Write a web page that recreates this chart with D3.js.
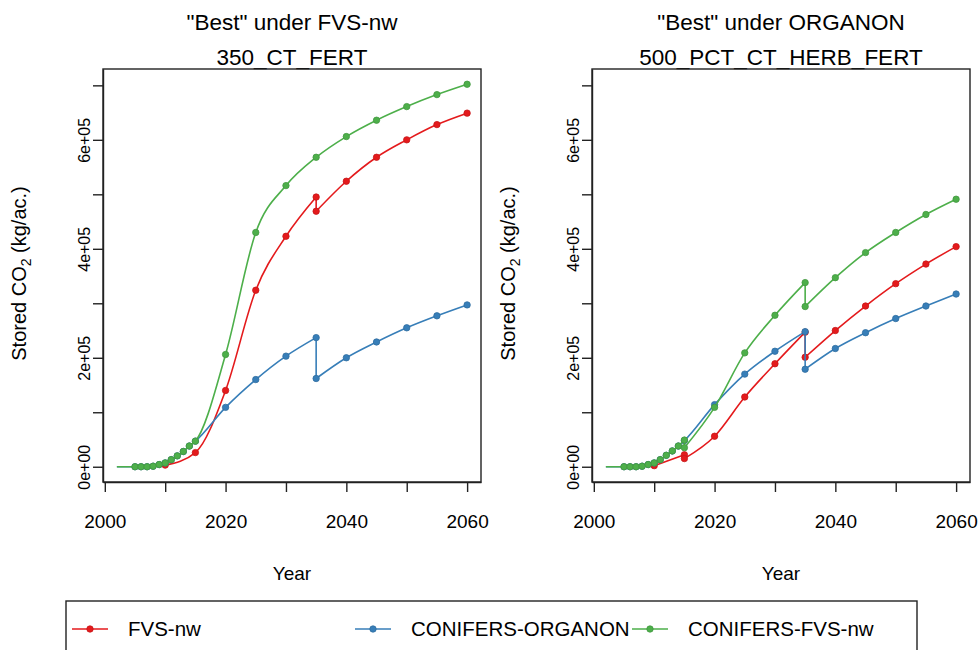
<!DOCTYPE html>
<html>
<head>
<meta charset="utf-8">
<script src="https://cdn.jsdelivr.net/npm/d3@7"></script>
<style>
  body { margin: 0; background: #fff; }
  text { font-family: "Liberation Sans", Arial, Helvetica, sans-serif; fill: #000; }
</style>
</head>
<body>
<svg id="chart" width="979" height="650"></svg>
<script>
// ---- data -------------------------------------------------------------
const seriesNames  = ["FVS-nw", "CONIFERS-ORGANON", "CONIFERS-FVS-nw"];
const seriesColors = ["#E41A1C", "#377EB8", "#4DAF4A"];

const panelTitles = [
  ['"Best" under FVS-nw', "350_CT_FERT"],
  ['"Best" under ORGANON', "500_PCT_CT_HERB_FERT"]
];

const xTickValues = [2000, 2010, 2020, 2030, 2040, 2050, 2060];
const xTickLabels = ["2000", "", "2020", "", "2040", "", "2060"];
const yTickValues = [0, 100000, 200000, 300000, 400000, 500000, 600000, 700000];
const yTickLabels = ["0e+00", "", "2e+05", "", "4e+05", "", "6e+05", ""];

// curves start before the first plotted symbol
const firstMarkedYear = 2005;

// "Best" under FVS-nw : 350_CT_FERT
const fvsBestFvsYears   = [2010, 2015, 2020, 2025, 2030, 2035, 2035, 2040, 2045, 2050, 2055, 2060];
const fvsBestFvsValues  = [3000, 26000, 140000, 324000, 423000, 495000, 469000, 524000, 568000, 600000, 628000, 649000];

const fvsBestOrgYears   = [2002, 2005, 2006, 2007, 2008, 2009, 2010, 2011, 2012, 2013, 2014, 2015,
                           2020, 2025, 2030, 2035, 2035, 2040, 2045, 2050, 2055, 2060];
const fvsBestOrgValues  = [0, 0, 0, 0, 1000, 4000, 7000, 13000, 20000, 28000, 38000, 47000,
                           109000, 160000, 203000, 237000, 162000, 200000, 229000, 255000, 277000, 297000];

const fvsBestCfvsYears  = [2002, 2005, 2006, 2007, 2008, 2009, 2010, 2011, 2012, 2013, 2014, 2015,
                           2020, 2025, 2030, 2035, 2040, 2045, 2050, 2055, 2060];
const fvsBestCfvsValues = [0, 0, 0, 0, 1000, 4000, 7000, 13000, 20000, 28000, 38000, 47000,
                           206000, 430000, 516000, 568000, 606000, 636000, 661000, 683000, 702000];

// "Best" under ORGANON : 500_PCT_CT_HERB_FERT
const orgBestFvsYears   = [2010, 2015, 2015, 2020, 2025, 2030, 2035, 2035, 2040, 2045, 2050, 2055, 2060];
const orgBestFvsValues  = [2000, 22000, 15000, 56000, 128000, 189000, 247000, 201000, 250000, 295000, 336000, 372000, 404000];

const orgBestOrgYears   = [2002, 2005, 2006, 2007, 2008, 2009, 2010, 2011, 2012, 2013, 2014, 2015,
                           2020, 2025, 2030, 2035, 2035, 2040, 2045, 2050, 2055, 2060];
const orgBestOrgValues  = [0, 0, 0, 0, 1000, 4000, 7000, 13000, 21000, 29000, 38000, 48000,
                           114000, 170000, 212000, 248000, 179000, 217000, 246000, 272000, 295000, 317000];

const orgBestCfvsYears  = [2002, 2005, 2006, 2007, 2008, 2009, 2010, 2011, 2012, 2013, 2014, 2015, 2015,
                           2020, 2025, 2030, 2035, 2035, 2040, 2045, 2050, 2055, 2060];
const orgBestCfvsValues = [0, 0, 0, 0, 1000, 4000, 7000, 13000, 21000, 29000, 38000, 49000, 35000,
                           109000, 209000, 278000, 338000, 294000, 347000, 393000, 430000, 463000, 491000];

const panels = [
  { titles: panelTitles[0], left: 103,
    series: [[fvsBestFvsYears, fvsBestFvsValues], [fvsBestOrgYears, fvsBestOrgValues], [fvsBestCfvsYears, fvsBestCfvsValues]] },
  { titles: panelTitles[1], left: 592,
    series: [[orgBestFvsYears, orgBestFvsValues], [orgBestOrgYears, orgBestOrgValues], [orgBestCfvsYears, orgBestCfvsValues]] }
];

// ---- layout -----------------------------------------------------------
const plotW = 378, plotTop = 69, plotBottom = 482;
const xDomain = [1999.7, 2062.3];
const yDomain = [-28000, 730000];

const svg = d3.select("#chart");

// split a series wherever the same year appears twice (an instantaneous drop)
function runs(years, values) {
  const out = [];
  let cur = [];
  years.forEach((yr, i) => {
    if (i > 0 && yr === years[i - 1]) { out.push(cur); cur = []; }
    cur.push([yr, values[i]]);
  });
  out.push(cur);
  return out;
}

panels.forEach(p => {
  const x = d3.scaleLinear().domain(xDomain).range([p.left, p.left + plotW]);
  const y = d3.scaleLinear().domain(yDomain).range([plotBottom, plotTop]);
  const cx = p.left + plotW / 2;

  // titles
  svg.append("text").attr("x", cx).attr("y", 30).attr("text-anchor", "middle")
    .style("font-size", "22.5px").text(p.titles[0]);
  svg.append("text").attr("x", cx).attr("y", 65).attr("text-anchor", "middle")
    .style("font-size", "22.5px").text(p.titles[1]);

  // x axis
  const gx = svg.append("g").attr("transform", `translate(0,${plotBottom})`)
    .call(d3.axisBottom(x).tickValues(xTickValues).tickSize(10).tickSizeOuter(0)
      .tickFormat((d, i) => xTickLabels[i]));
  gx.selectAll("text").style("font-size", "19px").attr("dy", "1.75em");
  gx.selectAll("line, path").attr("stroke", "#222").attr("stroke-width", 1.4);

  // y axis
  const gy = svg.append("g").attr("transform", `translate(${p.left},0)`)
    .call(d3.axisLeft(y).tickValues(yTickValues).tickSize(10).tickSizeOuter(0)
      .tickFormat((d, i) => yTickLabels[i]));
  gy.selectAll("text").style("font-size", "16px")
    .attr("transform", "rotate(-90)").attr("x", 0).attr("y", -13).attr("dy", 0)
    .attr("text-anchor", "middle");
  gy.selectAll("line, path").attr("stroke", "#222").attr("stroke-width", 1.4);

  // plot box
  svg.append("rect").attr("x", p.left).attr("y", plotTop)
    .attr("width", plotW).attr("height", plotBottom - plotTop)
    .attr("fill", "none").attr("stroke", "#222").attr("stroke-width", 1.4);

  // axis titles
  svg.append("text").attr("x", cx).attr("y", 580).attr("text-anchor", "middle")
    .style("font-size", "19px").text("Year");
  const yl = svg.append("text")
    .attr("transform", `translate(${p.left - 77},${(plotTop + plotBottom) / 2 - 2}) rotate(-90)`)
    .attr("text-anchor", "middle").style("font-size", "20px");
  yl.append("tspan").text("Stored CO");
  yl.append("tspan").attr("dy", 5).style("font-size", "14px").text("2");
  yl.append("tspan").attr("dy", -5).text(" (kg/ac.)");

  // series
  const line = d3.line().x(d => x(d[0])).y(d => y(d[1])).curve(d3.curveMonotoneX);
  const g = svg.append("g");
  p.series.forEach(([yrs, vals], si) => {
    const col = seriesColors[si];
    const parts = runs(yrs, vals);
    parts.forEach((pts, k) => {
      g.append("path").attr("d", line(pts)).attr("fill", "none")
        .attr("stroke", col).attr("stroke-width", 1.6);
      if (k > 0) {
        const a = parts[k - 1][parts[k - 1].length - 1], b = pts[0];
        g.append("line").attr("x1", x(a[0])).attr("y1", y(a[1]))
          .attr("x2", x(b[0])).attr("y2", y(b[1]))
          .attr("stroke", col).attr("stroke-width", 1.6);
      }
    });
    g.selectAll(null)
      .data(yrs.map((yr, i) => [yr, vals[i]]).filter(d => d[0] >= firstMarkedYear))
      .enter().append("circle")
      .attr("cx", d => x(d[0])).attr("cy", d => y(d[1])).attr("r", 3.2)
      .attr("fill", col).attr("stroke", d3.color(col).darker(0.4)).attr("stroke-width", 0.8);
  });
});

// ---- legend -----------------------------------------------------------
svg.append("rect").attr("x", 66).attr("y", 601).attr("width", 851).attr("height", 70)
  .attr("fill", "none").attr("stroke", "#222").attr("stroke-width", 1.4);
const legendX = [72, 355, 632];
seriesNames.forEach((name, i) => {
  const lx = legendX[i], ly = 629;
  svg.append("line").attr("x1", lx).attr("x2", lx + 36).attr("y1", ly).attr("y2", ly)
    .attr("stroke", seriesColors[i]).attr("stroke-width", 1.6);
  svg.append("circle").attr("cx", lx + 18).attr("cy", ly).attr("r", 3.2)
    .attr("fill", seriesColors[i]).attr("stroke", d3.color(seriesColors[i]).darker(0.4)).attr("stroke-width", 0.8);
  svg.append("text").attr("x", lx + 56).attr("y", ly + 7).style("font-size", "20.5px").text(name);
});
</script>
</body>
</html>
